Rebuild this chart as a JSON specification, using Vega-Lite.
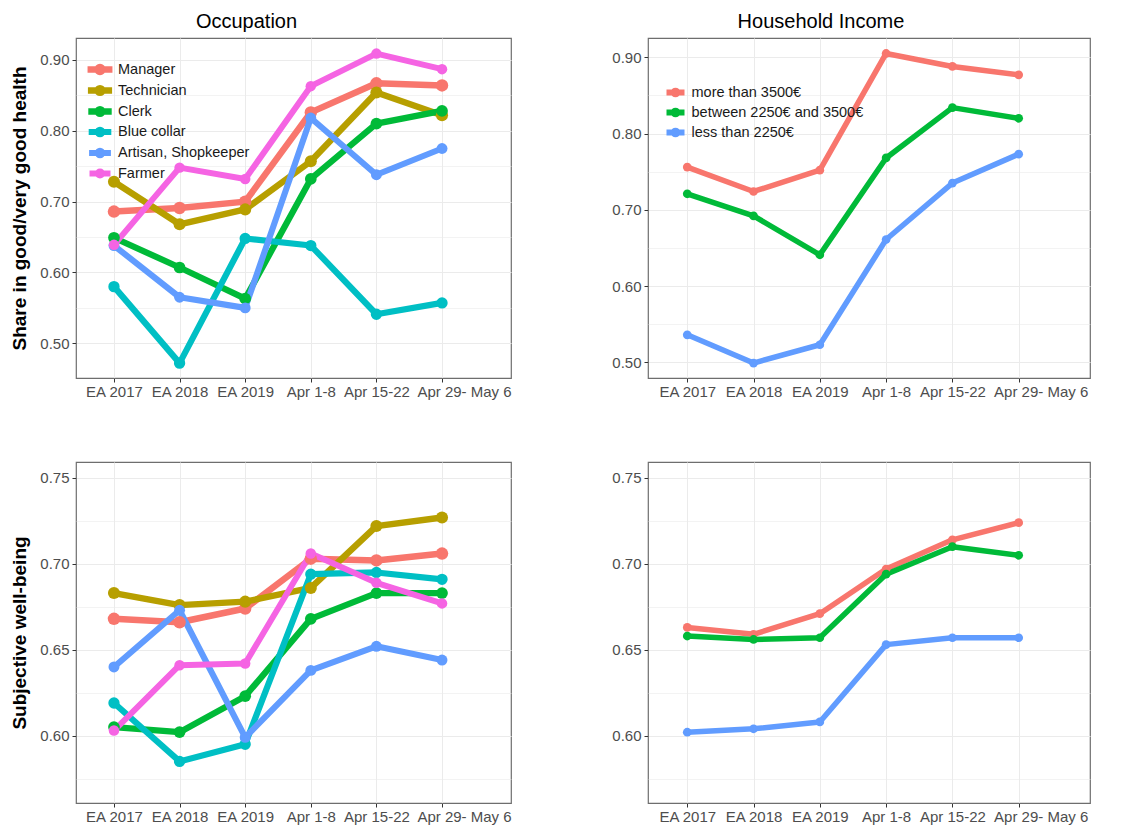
{
  "$schema": "https://vega.github.io/schema/vega-lite/v6.json",
  "background": "white",
  "padding": {"left": 10, "top": 11, "right": 0, "bottom": 0},
  "datasets": {
    "occHealth": [
      {"group": "Manager", "period": "EA 2017", "value": 0.686},
      {"group": "Manager", "period": "EA 2018", "value": 0.691},
      {"group": "Manager", "period": "EA 2019", "value": 0.700},
      {"group": "Manager", "period": "Apr 1-8", "value": 0.826},
      {"group": "Manager", "period": "Apr 15-22", "value": 0.867},
      {"group": "Manager", "period": "Apr 29- May 6", "value": 0.864},
      {"group": "Technician", "period": "EA 2017", "value": 0.728},
      {"group": "Technician", "period": "EA 2018", "value": 0.668},
      {"group": "Technician", "period": "EA 2019", "value": 0.689},
      {"group": "Technician", "period": "Apr 1-8", "value": 0.757},
      {"group": "Technician", "period": "Apr 15-22", "value": 0.854},
      {"group": "Technician", "period": "Apr 29- May 6", "value": 0.822},
      {"group": "Clerk", "period": "EA 2017", "value": 0.649},
      {"group": "Clerk", "period": "EA 2018", "value": 0.607},
      {"group": "Clerk", "period": "EA 2019", "value": 0.563},
      {"group": "Clerk", "period": "Apr 1-8", "value": 0.732},
      {"group": "Clerk", "period": "Apr 15-22", "value": 0.810},
      {"group": "Clerk", "period": "Apr 29- May 6", "value": 0.828},
      {"group": "Blue collar", "period": "EA 2017", "value": 0.580},
      {"group": "Blue collar", "period": "EA 2018", "value": 0.472},
      {"group": "Blue collar", "period": "EA 2019", "value": 0.648},
      {"group": "Blue collar", "period": "Apr 1-8", "value": 0.638},
      {"group": "Blue collar", "period": "Apr 15-22", "value": 0.541},
      {"group": "Blue collar", "period": "Apr 29- May 6", "value": 0.557},
      {"group": "Artisan, Shopkeeper", "period": "EA 2017", "value": 0.638},
      {"group": "Artisan, Shopkeeper", "period": "EA 2018", "value": 0.565},
      {"group": "Artisan, Shopkeeper", "period": "EA 2019", "value": 0.550},
      {"group": "Artisan, Shopkeeper", "period": "Apr 1-8", "value": 0.818},
      {"group": "Artisan, Shopkeeper", "period": "Apr 15-22", "value": 0.738},
      {"group": "Artisan, Shopkeeper", "period": "Apr 29- May 6", "value": 0.775},
      {"group": "Farmer", "period": "EA 2017", "value": 0.639},
      {"group": "Farmer", "period": "EA 2018", "value": 0.748},
      {"group": "Farmer", "period": "EA 2019", "value": 0.732},
      {"group": "Farmer", "period": "Apr 1-8", "value": 0.863},
      {"group": "Farmer", "period": "Apr 15-22", "value": 0.909},
      {"group": "Farmer", "period": "Apr 29- May 6", "value": 0.887}
    ],
    "incHealth": [
      {"group": "more than 3500€", "period": "EA 2017", "value": 0.756},
      {"group": "more than 3500€", "period": "EA 2018", "value": 0.724},
      {"group": "more than 3500€", "period": "EA 2019", "value": 0.752},
      {"group": "more than 3500€", "period": "Apr 1-8", "value": 0.905},
      {"group": "more than 3500€", "period": "Apr 15-22", "value": 0.888},
      {"group": "more than 3500€", "period": "Apr 29- May 6", "value": 0.877},
      {"group": "between 2250€ and 3500€", "period": "EA 2017", "value": 0.721},
      {"group": "between 2250€ and 3500€", "period": "EA 2018", "value": 0.692},
      {"group": "between 2250€ and 3500€", "period": "EA 2019", "value": 0.641},
      {"group": "between 2250€ and 3500€", "period": "Apr 1-8", "value": 0.768},
      {"group": "between 2250€ and 3500€", "period": "Apr 15-22", "value": 0.834},
      {"group": "between 2250€ and 3500€", "period": "Apr 29- May 6", "value": 0.820},
      {"group": "less than 2250€", "period": "EA 2017", "value": 0.536},
      {"group": "less than 2250€", "period": "EA 2018", "value": 0.499},
      {"group": "less than 2250€", "period": "EA 2019", "value": 0.523},
      {"group": "less than 2250€", "period": "Apr 1-8", "value": 0.661},
      {"group": "less than 2250€", "period": "Apr 15-22", "value": 0.735},
      {"group": "less than 2250€", "period": "Apr 29- May 6", "value": 0.773}
    ],
    "occWellbeing": [
      {"group": "Manager", "period": "EA 2017", "value": 0.668},
      {"group": "Manager", "period": "EA 2018", "value": 0.666},
      {"group": "Manager", "period": "EA 2019", "value": 0.674},
      {"group": "Manager", "period": "Apr 1-8", "value": 0.703},
      {"group": "Manager", "period": "Apr 15-22", "value": 0.702},
      {"group": "Manager", "period": "Apr 29- May 6", "value": 0.706},
      {"group": "Technician", "period": "EA 2017", "value": 0.683},
      {"group": "Technician", "period": "EA 2018", "value": 0.676},
      {"group": "Technician", "period": "EA 2019", "value": 0.678},
      {"group": "Technician", "period": "Apr 1-8", "value": 0.686},
      {"group": "Technician", "period": "Apr 15-22", "value": 0.722},
      {"group": "Technician", "period": "Apr 29- May 6", "value": 0.727},
      {"group": "Clerk", "period": "EA 2017", "value": 0.605},
      {"group": "Clerk", "period": "EA 2018", "value": 0.602},
      {"group": "Clerk", "period": "EA 2019", "value": 0.623},
      {"group": "Clerk", "period": "Apr 1-8", "value": 0.668},
      {"group": "Clerk", "period": "Apr 15-22", "value": 0.683},
      {"group": "Clerk", "period": "Apr 29- May 6", "value": 0.683},
      {"group": "Blue collar", "period": "EA 2017", "value": 0.619},
      {"group": "Blue collar", "period": "EA 2018", "value": 0.585},
      {"group": "Blue collar", "period": "EA 2019", "value": 0.595},
      {"group": "Blue collar", "period": "Apr 1-8", "value": 0.694},
      {"group": "Blue collar", "period": "Apr 15-22", "value": 0.695},
      {"group": "Blue collar", "period": "Apr 29- May 6", "value": 0.691},
      {"group": "Artisan, Shopkeeper", "period": "EA 2017", "value": 0.640},
      {"group": "Artisan, Shopkeeper", "period": "EA 2018", "value": 0.673},
      {"group": "Artisan, Shopkeeper", "period": "EA 2019", "value": 0.599},
      {"group": "Artisan, Shopkeeper", "period": "Apr 1-8", "value": 0.638},
      {"group": "Artisan, Shopkeeper", "period": "Apr 15-22", "value": 0.652},
      {"group": "Artisan, Shopkeeper", "period": "Apr 29- May 6", "value": 0.644},
      {"group": "Farmer", "period": "EA 2017", "value": 0.603},
      {"group": "Farmer", "period": "EA 2018", "value": 0.641},
      {"group": "Farmer", "period": "EA 2019", "value": 0.642},
      {"group": "Farmer", "period": "Apr 1-8", "value": 0.706},
      {"group": "Farmer", "period": "Apr 15-22", "value": 0.689},
      {"group": "Farmer", "period": "Apr 29- May 6", "value": 0.677}
    ],
    "incWellbeing": [
      {"group": "more than 3500€", "period": "EA 2017", "value": 0.663},
      {"group": "more than 3500€", "period": "EA 2018", "value": 0.659},
      {"group": "more than 3500€", "period": "EA 2019", "value": 0.671},
      {"group": "more than 3500€", "period": "Apr 1-8", "value": 0.697},
      {"group": "more than 3500€", "period": "Apr 15-22", "value": 0.714},
      {"group": "more than 3500€", "period": "Apr 29- May 6", "value": 0.724},
      {"group": "between 2250€ and 3500€", "period": "EA 2017", "value": 0.658},
      {"group": "between 2250€ and 3500€", "period": "EA 2018", "value": 0.656},
      {"group": "between 2250€ and 3500€", "period": "EA 2019", "value": 0.657},
      {"group": "between 2250€ and 3500€", "period": "Apr 1-8", "value": 0.694},
      {"group": "between 2250€ and 3500€", "period": "Apr 15-22", "value": 0.710},
      {"group": "between 2250€ and 3500€", "period": "Apr 29- May 6", "value": 0.705},
      {"group": "less than 2250€", "period": "EA 2017", "value": 0.602},
      {"group": "less than 2250€", "period": "EA 2018", "value": 0.604},
      {"group": "less than 2250€", "period": "EA 2019", "value": 0.608},
      {"group": "less than 2250€", "period": "Apr 1-8", "value": 0.653},
      {"group": "less than 2250€", "period": "Apr 15-22", "value": 0.657},
      {"group": "less than 2250€", "period": "Apr 29- May 6", "value": 0.657}
    ]
  },
  "config": {
    "font": "Liberation Sans",
    "view": {"stroke": "#6E6E6E", "strokeWidth": 1.2},
    "axis": {
      "domain": false,
      "grid": true,
      "gridColor": "#EBEBEB",
      "tickColor": "#333333",
      "tickSize": 4,
      "labelColor": "#4D4D4D",
      "labelFont": "Liberation Sans",
      "labelFontSize": 15,
      "labelPadding": 3,
      "titleFont": "Liberation Sans",
      "titleFontSize": 19,
      "titleFontWeight": "bold",
      "titleColor": "#000000",
      "titlePadding": 10
    },
    "axisX": {"labelAngle": 0, "labelOverlap": false, "labelBound": false, "labelFlush": false, "labelPadding": 2, "title": null},
    "title": {"font": "Liberation Sans", "fontSize": 20, "fontWeight": "normal", "color": "#000000", "anchor": "middle", "frame": "group", "baseline": "alphabetic", "offset": 6, "dx": -47},
    "legend": {
      "orient": "none",
      "title": null,
      "symbolType": "M-2,0H2M-0.4,0A0.4,0.4 0 1,0 0.4,0A0.4,0.4 0 1,0 -0.4,0",
      "symbolSize": 81,
      "symbolStrokeWidth": 6,
      "labelFont": "Liberation Sans",
      "labelFontSize": 14.5,
      "labelColor": "#1A1A1A",
      "labelOffset": 8.5,
      "labelLimit": 300,
      "rowPadding": 5
    }
  },
  "columns": 2,
  "spacing": {"row": 61, "column": 99},
  "resolve": {"scale": {"color": "independent", "y": "independent", "x": "independent", "size": "independent", "strokeWidth": "independent"}, "legend": {"color": "independent"}},
  "concat": [
    {
      "width": 435,
      "height": 340,
      "title": {"text": "Occupation"},
      "data": {"name": "occHealth"},
      "encoding": {
        "x": {"field": "period", "type": "ordinal",
          "scale": {"type": "point", "domain": ["EA 2017", "EA 2018", "EA 2019", "Apr 1-8", "Apr 15-22", "Apr 29- May 6"], "padding": 0.815, "align": 0.355},
          "axis": {"labelOffset": {"condition": {"test": "datum.value === 'Apr 29- May 6'", "value": 22}, "value": 0}}},
        "y": {"field": "value", "type": "quantitative",
          "scale": {"domain": [0.451, 0.931], "zero": false, "nice": false},
          "axis": {"title": "Share in good/very good health",
            "values": [0.5, 0.55, 0.6, 0.65, 0.7, 0.75, 0.8, 0.85, 0.9],
            "labelExpr": "abs(datum.value*10 - round(datum.value*10)) < 0.01 ? format(datum.value, '.2f') : ''",
            "tickOpacity": {"condition": {"test": "abs(datum.value*10 - round(datum.value*10)) > 0.01", "value": 0}, "value": 1},
            "gridWidth": {"condition": {"test": "abs(datum.value*10 - round(datum.value*10)) > 0.01", "value": 0.6}, "value": 1.1}}},
        "color": {"field": "group", "type": "nominal",
          "scale": {"domain": ["Manager", "Technician", "Clerk", "Blue collar", "Artisan, Shopkeeper", "Farmer"], "range": ["#F8766D", "#B79F00", "#00BA38", "#00BFC4", "#619CFF", "#F564E3"]},
          "legend": {"legendX": 14.5, "legendY": 22, "encode": {"symbols": {"update": {"strokeJoin": {"value": "round"}}}}}}
      },
      "layer": [
        {"mark": {"type": "line", "strokeJoin": "round"},
          "encoding": {"strokeWidth": {"field": "group", "type": "ordinal", "legend": null,
            "scale": {"domain": ["Manager", "Technician", "Clerk", "Blue collar", "Artisan, Shopkeeper", "Farmer"], "range": [6.5, 6, 6.5, 5.5, 6, 5]}}}},
        {"mark": {"type": "point", "filled": true, "opacity": 1},
          "encoding": {"size": {"field": "group", "type": "ordinal", "legend": null,
            "scale": {"domain": ["Manager", "Technician", "Clerk", "Blue collar", "Artisan, Shopkeeper", "Farmer"], "range": [155, 110, 155, 56, 72, 38]}}}}
      ]
    },
    {
      "width": 442,
      "height": 340,
      "title": {"text": "Household Income", "dx": -48},
      "data": {"name": "incHealth"},
      "encoding": {
        "x": {"field": "period", "type": "ordinal",
          "scale": {"type": "point", "domain": ["EA 2017", "EA 2018", "EA 2019", "Apr 1-8", "Apr 15-22", "Apr 29- May 6"], "padding": 0.834, "align": 0.355},
          "axis": {"labelOffset": {"condition": {"test": "datum.value === 'Apr 29- May 6'", "value": 22}, "value": 0}}},
        "y": {"field": "value", "type": "quantitative",
          "scale": {"domain": [0.4794, 0.9253], "zero": false, "nice": false},
          "axis": {"title": null,
            "values": [0.5, 0.55, 0.6, 0.65, 0.7, 0.75, 0.8, 0.85, 0.9],
            "labelExpr": "abs(datum.value*10 - round(datum.value*10)) < 0.01 ? format(datum.value, '.2f') : ''",
            "tickOpacity": {"condition": {"test": "abs(datum.value*10 - round(datum.value*10)) > 0.01", "value": 0}, "value": 1},
            "gridWidth": {"condition": {"test": "abs(datum.value*10 - round(datum.value*10)) > 0.01", "value": 0.6}, "value": 1.1}}},
        "color": {"field": "group", "type": "nominal",
          "scale": {"domain": ["more than 3500€", "between 2250€ and 3500€", "less than 2250€"], "range": ["#F8766D", "#00BA38", "#619CFF"]},
          "legend": {"legendX": 20, "legendY": 47, "encode": {"symbols": {"update": {"strokeJoin": {"value": "round"}}}}}}
      },
      "layer": [
        {"mark": {"type": "line", "strokeJoin": "round", "strokeWidth": 5.5}},
        {"mark": {"type": "point", "filled": true, "opacity": 1, "size": 76}}
      ]
    },
    {
      "width": 435,
      "height": 341,
      "data": {"name": "occWellbeing"},
      "encoding": {
        "x": {"field": "period", "type": "ordinal",
          "scale": {"type": "point", "domain": ["EA 2017", "EA 2018", "EA 2019", "Apr 1-8", "Apr 15-22", "Apr 29- May 6"], "padding": 0.815, "align": 0.355},
          "axis": {"labelOffset": {"condition": {"test": "datum.value === 'Apr 29- May 6'", "value": 22}, "value": 0}}},
        "y": {"field": "value", "type": "quantitative",
          "scale": {"domain": [0.5608, 0.7593], "zero": false, "nice": false},
          "axis": {"title": "Subjective well-being",
            "values": [0.575, 0.6, 0.625, 0.65, 0.675, 0.7, 0.725, 0.75],
            "labelExpr": "abs(datum.value*20 - round(datum.value*20)) < 0.01 ? format(datum.value, '.2f') : ''",
            "tickOpacity": {"condition": {"test": "abs(datum.value*20 - round(datum.value*20)) > 0.01", "value": 0}, "value": 1},
            "gridWidth": {"condition": {"test": "abs(datum.value*20 - round(datum.value*20)) > 0.01", "value": 0.6}, "value": 1.1}}},
        "color": {"field": "group", "type": "nominal",
          "scale": {"domain": ["Manager", "Technician", "Clerk", "Blue collar", "Artisan, Shopkeeper", "Farmer"], "range": ["#F8766D", "#B79F00", "#00BA38", "#00BFC4", "#619CFF", "#F564E3"]},
          "legend": null}
      },
      "layer": [
        {"mark": {"type": "line", "strokeJoin": "round"},
          "encoding": {"strokeWidth": {"field": "group", "type": "ordinal", "legend": null,
            "scale": {"domain": ["Manager", "Technician", "Clerk", "Blue collar", "Artisan, Shopkeeper", "Farmer"], "range": [6.5, 6, 6.5, 5.5, 6, 5]}}}},
        {"mark": {"type": "point", "filled": true, "opacity": 1},
          "encoding": {"size": {"field": "group", "type": "ordinal", "legend": null,
            "scale": {"domain": ["Manager", "Technician", "Clerk", "Blue collar", "Artisan, Shopkeeper", "Farmer"], "range": [155, 110, 155, 56, 72, 38]}}}}
      ]
    },
    {
      "width": 442,
      "height": 341,
      "data": {"name": "incWellbeing"},
      "encoding": {
        "x": {"field": "period", "type": "ordinal",
          "scale": {"type": "point", "domain": ["EA 2017", "EA 2018", "EA 2019", "Apr 1-8", "Apr 15-22", "Apr 29- May 6"], "padding": 0.834, "align": 0.355},
          "axis": {"labelOffset": {"condition": {"test": "datum.value === 'Apr 29- May 6'", "value": 22}, "value": 0}}},
        "y": {"field": "value", "type": "quantitative",
          "scale": {"domain": [0.5608, 0.7593], "zero": false, "nice": false},
          "axis": {"title": null,
            "values": [0.575, 0.6, 0.625, 0.65, 0.675, 0.7, 0.725, 0.75],
            "labelExpr": "abs(datum.value*20 - round(datum.value*20)) < 0.01 ? format(datum.value, '.2f') : ''",
            "tickOpacity": {"condition": {"test": "abs(datum.value*20 - round(datum.value*20)) > 0.01", "value": 0}, "value": 1},
            "gridWidth": {"condition": {"test": "abs(datum.value*20 - round(datum.value*20)) > 0.01", "value": 0.6}, "value": 1.1}}},
        "color": {"field": "group", "type": "nominal",
          "scale": {"domain": ["more than 3500€", "between 2250€ and 3500€", "less than 2250€"], "range": ["#F8766D", "#00BA38", "#619CFF"]},
          "legend": null}
      },
      "layer": [
        {"mark": {"type": "line", "strokeJoin": "round", "strokeWidth": 5.5}},
        {"mark": {"type": "point", "filled": true, "opacity": 1, "size": 76}}
      ]
    }
  ]
}
